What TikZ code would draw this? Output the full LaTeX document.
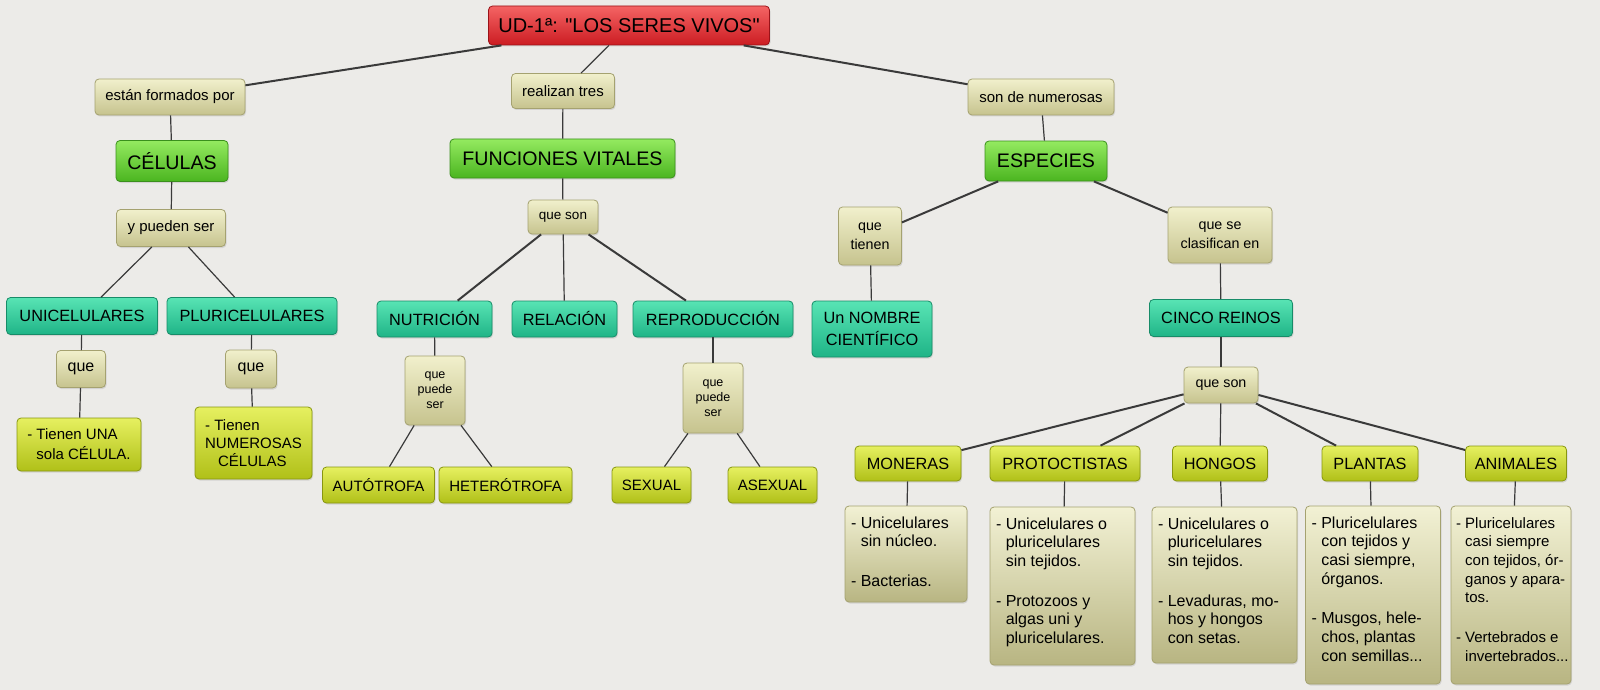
\documentclass[tikz,border=0pt]{standalone}
\usepackage{fontspec}
\setmainfont{Liberation Sans}
\usetikzlibrary{shadows}

\definecolor{bgC}{HTML}{ECEBE8}
\definecolor{lineC}{HTML}{3A3A3A}
\definecolor{redT}{HTML}{F46464}
\definecolor{redB}{HTML}{CC1C22}
\definecolor{redD}{HTML}{9A1218}
\definecolor{linkT}{HTML}{F1F0CC}
\definecolor{linkB}{HTML}{C6C38E}
\definecolor{linkD}{HTML}{A5A270}
\definecolor{grnT}{HTML}{94EA60}
\definecolor{grnB}{HTML}{4BB520}
\definecolor{grnD}{HTML}{3A901C}
\definecolor{tealT}{HTML}{58E4B4}
\definecolor{tealB}{HTML}{1FB487}
\definecolor{tealD}{HTML}{178C68}
\definecolor{leafT}{HTML}{E6F060}
\definecolor{leafB}{HTML}{B0C018}
\definecolor{leafD}{HTML}{889610}
\definecolor{infoT}{HTML}{F2F1D4}
\definecolor{infoB}{HTML}{B8B582}

\newcommand{\ind}{\hphantom{- }}
\newcommand{\infobox}[3]{\parbox[c][#2pt][t]{#1pt}{\begin{tabular}[t]{@{}l@{}}#3\end{tabular}}}

\begin{document}
\begin{tikzpicture}[x=1pt,y=-1pt,
  box/.style={rounded corners=4pt, line width=0.8pt, inner sep=2pt, align=center,
    drop shadow={opacity=0.22, shadow xshift=1pt, shadow yshift=-1.5pt}},
  titlebox/.style={box, draw=redD, top color=redT, bottom color=redB,
    font=\fontsize{20}{24}\selectfont},
  link/.style={box, draw=linkD, top color=linkT, bottom color=linkB,
    font=\fontsize{15}{19}\selectfont},
  concept/.style={box, draw=grnD, top color=grnT, bottom color=grnB,
    font=\fontsize{19.6}{23}\selectfont},
  term/.style={box, draw=tealD, top color=tealT, bottom color=tealB,
    font=\fontsize{16.3}{22}\selectfont},
  leaf/.style={box, draw=leafD, top color=leafT, bottom color=leafB,
    font=\fontsize{15}{19}\selectfont},
  kingdom/.style={leaf, font=\fontsize{16.3}{19}\selectfont},
  info/.style={box, draw=linkD, top color=infoT, bottom color=infoB,
    inner xsep=6pt, inner ysep=9pt, align=left, font=\fontsize{16}{18.7}\selectfont},
  conn/.style={draw=lineC, line width=1.2pt},
  heavy/.style={draw=lineC, line width=2pt}]
  \fill [bgC] (0,0) rectangle (1600,690);
  \useasboundingbox (0,0) rectangle (1600,690);

  \node [titlebox, minimum width=281, minimum height=39] (title) at (629,25.5) {UD-1ª: \textquotedbl LOS SERES VIVOS\textquotedbl};

  \node [link, minimum width=150, minimum height=36] (estan) at (170,97) {están formados por};
  \node [link, minimum width=103, minimum height=35] (realizan) at (563,91) {realizan tres};
  \node [link, minimum width=146, minimum height=36] (numerosas) at (1041,97) {son de numerosas};

  \node [concept, minimum width=112, minimum height=41] (celulas) at (172,161) {CÉLULAS};
  \node [concept, minimum width=225, minimum height=39] (funciones) at (562.5,158.5) {FUNCIONES VITALES};
  \node [concept, minimum width=122, minimum height=40] (especies) at (1046,161) {ESPECIES};

  \node [link, minimum width=109, minimum height=37] (pueden) at (171,228) {y pueden ser};
  \node [term, minimum width=151, minimum height=37] (uni) at (82,316) {UNICELULARES};
  \node [term, minimum width=170, minimum height=37] (pluri) at (252,316) {PLURICELULARES};
  \node [link, minimum width=49, minimum height=37, font=\fontsize{16}{19}\selectfont] (queA) at (81,369) {que};
  \node [link, minimum width=51, minimum height=38, font=\fontsize{16}{19}\selectfont] (queB) at (251,369) {que};
  \node [leaf, minimum width=124, minimum height=53, align=left, font=\fontsize{15}{20}\selectfont] (una) at (79,444.5) {- Tienen UNA\\\ind sola CÉLULA.};
  \node [leaf, minimum width=117, minimum height=72, align=left, font=\fontsize{15}{18}\selectfont] (numer) at (253.5,443) {- Tienen\\NUMEROSAS\\\hspace*{13pt}CÉLULAS};

  \node [link, minimum width=70, minimum height=34, font=\fontsize{13.5}{19}\selectfont] (quesonA) at (563,217) {que son};
  \node [term, minimum width=115, minimum height=36] (nutricion) at (434.5,319) {NUTRICIÓN};
  \node [term, minimum width=105, minimum height=36] (relacion) at (564.5,319) {RELACIÓN};
  \node [term, minimum width=160, minimum height=36] (reprod) at (713,319) {REPRODUCCIÓN};
  \node [link, minimum width=60, minimum height=69, font=\fontsize{12.5}{15}\selectfont] (puedeA) at (435,390.5) {que\\puede\\ser};
  \node [link, minimum width=60, minimum height=70, font=\fontsize{12.5}{15}\selectfont] (puedeB) at (713,398) {que\\puede\\ser};
  \node [leaf, minimum width=112, minimum height=36] (auto) at (378.5,485) {AUTÓTROFA};
  \node [leaf, minimum width=133, minimum height=36] (hetero) at (505.5,485) {HETERÓTROFA};
  \node [leaf, minimum width=79, minimum height=36] (sexual) at (651.5,485) {SEXUAL};
  \node [leaf, minimum width=89, minimum height=36] (asexual) at (772.5,485) {ASEXUAL};

  \node [link, minimum width=63, minimum height=58, font=\fontsize{14.3}{19}\selectfont] (tienen) at (870,236) {que\\tienen};
  \node [link, minimum width=104, minimum height=56, font=\fontsize{14.3}{19}\selectfont] (clasif) at (1220,235) {que se\\clasifican en};
  \node [term, minimum width=120, minimum height=56] (nombre) at (872,329) {Un NOMBRE\\CIENTÍFICO};
  \node [term, minimum width=143, minimum height=37] (cinco) at (1221,318) {CINCO REINOS};
  \node [link, minimum width=74, minimum height=36, font=\fontsize{14.3}{19}\selectfont] (quesonB) at (1221,385) {que son};

  \node [kingdom, minimum width=106, minimum height=35] (moneras) at (908,463.5) {MONERAS};
  \node [kingdom, minimum width=150, minimum height=35] (protoc) at (1065,463.5) {PROTOCTISTAS};
  \node [kingdom, minimum width=95, minimum height=35] (hongos) at (1220,463.5) {HONGOS};
  \node [kingdom, minimum width=96, minimum height=35] (plantas) at (1370,463.5) {PLANTAS};
  \node [kingdom, minimum width=101, minimum height=35] (animales) at (1516,463.5) {ANIMALES};

  \node [info] (infoM) at (906,554) {\infobox{110}{78}{- Unicelulares\\\ind sin núcleo.\\[21pt]- Bacterias.}};
  \node [info] (infoP) at (1062.5,586) {\infobox{133}{140}{- Unicelulares o\\\ind pluricelulares\\\ind sin tejidos.\\[21pt]- Protozoos y\\\ind algas uni y\\\ind pluricelulares.}};
  \node [info] (infoH) at (1224.5,585) {\infobox{133}{138}{- Unicelulares o\\\ind pluricelulares\\\ind sin tejidos.\\[21pt]- Levaduras, mo-\\\ind hos y hongos\\\ind con setas.}};
  \node [info] (infoL) at (1373,595) {\infobox{123}{160}{- Pluricelulares\\\ind con tejidos y\\\ind casi siempre,\\\ind órganos.\\[21pt]- Musgos, hele-\\\ind chos, plantas\\\ind con semillas...}};
  \node [info, inner xsep=5pt, font=\fontsize{15}{18.7}\selectfont] (infoA) at (1511,595) {\infobox{110}{160}{- Pluricelulares\\\ind casi siempre\\\ind con tejidos, ór-\\\ind ganos y apara-\\\ind tos.\\[21pt]- Vertebrados e\\\ind invertebrados...}};

  \draw [heavy] (title) -- (estan);
  \draw [conn] (title) -- (realizan);
  \draw [heavy] (title) -- (numerosas);

  \draw [conn] (estan) -- (celulas);
  \draw [conn] (celulas) -- (pueden);
  \draw [conn] (pueden) -- (uni);
  \draw [conn] (pueden) -- (pluri);
  \draw [conn] (uni) -- (queA);
  \draw [conn] (queA) -- (una);
  \draw [conn] (pluri) -- (queB);
  \draw [conn] (queB) -- (numer);

  \draw [conn] (realizan) -- (funciones);
  \draw [conn] (funciones) -- (quesonA);
  \draw [heavy] (quesonA) -- (nutricion);
  \draw [conn] (quesonA) -- (relacion);
  \draw [heavy] (quesonA) -- (reprod);
  \draw [conn] (nutricion) -- (puedeA);
  \draw [conn] (puedeA) -- (auto);
  \draw [conn] (puedeA) -- (hetero);
  \draw [conn] (reprod) -- (puedeB);
  \draw [conn] (puedeB) -- (sexual);
  \draw [conn] (puedeB) -- (asexual);

  \draw [conn] (numerosas) -- (especies);
  \draw [heavy] (especies) -- (tienen);
  \draw [heavy] (especies) -- (clasif);
  \draw [conn] (tienen) -- (nombre);
  \draw [conn] (clasif) -- (cinco);
  \draw [conn] (cinco) -- (quesonB);
  \draw [heavy] (quesonB) -- (moneras);
  \draw [heavy] (quesonB) -- (protoc);
  \draw [conn] (quesonB) -- (hongos);
  \draw [heavy] (quesonB) -- (plantas);
  \draw [heavy] (quesonB) -- (animales);
  \draw [conn] (moneras) -- (infoM);
  \draw [conn] (protoc) -- (infoP);
  \draw [conn] (hongos) -- (infoH);
  \draw [conn] (plantas) -- (infoL);
  \draw [conn] (animales) -- (infoA);
\end{tikzpicture}
\end{document}
